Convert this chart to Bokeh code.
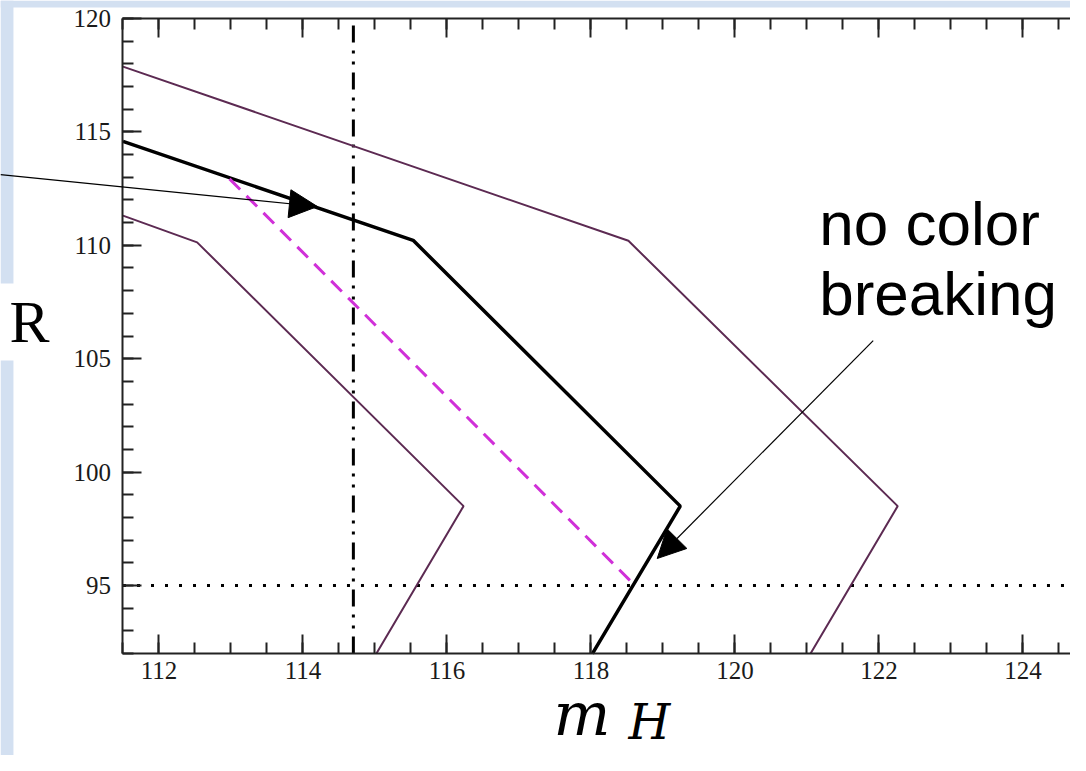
from bokeh.plotting import figure
from bokeh.models import (Range1d, LinearAxis, SingleIntervalTicker, Label,
                          Arrow, NormalHead, BoxAnnotation, CustomJSTickFormatter)
from bokeh.embed import file_html
from bokeh.resources import INLINE

# ---- data ----
upper_mh = [111.5, 118.52, 122.26, 121.05]
upper_m = [117.88, 110.2, 98.5, 92.0]

central_mh = [111.5, 115.53, 119.24, 118.02]
central_m = [114.58, 110.22, 98.5, 92.0]

lower_mh = [111.5, 112.53, 116.23, 115.02]
lower_m = [111.31, 110.13, 98.5, 92.0]

dashed_mh = [112.98, 118.58]
dashed_m = [112.93, 95.1]

vline_mh = 114.7
hline_m = 95.0

# axis box of the chart (m_H, m) and the visible canvas window around it
box_x = (111.5, 124.66)
box_y = (92.0, 120.0)
view_x = (109.799, 124.66)
view_y = (87.504, 120.794)

W, H = 1070, 755
PURPLE = "#5c2a52"
MAGENTA = "#d030d8"
BLUE = "#d3e0f1"
SERIF = "Liberation Serif"

p = figure(width=W, height=H, x_range=Range1d(*view_x), y_range=Range1d(*view_y),
           output_backend="svg", toolbar_location=None,
           x_axis_location=None, y_axis_location=None,
           background_fill_color="white", border_fill_color="white")
p.min_border = 0
p.outline_line_color = None
p.grid.visible = False

def style_axis(ax, labels=True):
    ax.axis_line_width = 2
    ax.axis_line_color = "#222222"
    ax.major_tick_in = 19
    ax.major_tick_out = 0
    ax.minor_tick_in = 11
    ax.minor_tick_out = 0
    ax.major_tick_line_width = 2
    ax.minor_tick_line_width = 2
    ax.major_tick_line_color = "#222222"
    ax.minor_tick_line_color = "#222222"
    if labels:
        ax.major_label_text_font = SERIF
        ax.major_label_text_font_size = "25px"
        ax.major_label_text_color = "#1a1a1a"
    else:
        ax.formatter = CustomJSTickFormatter(code="return ''")
        ax.major_label_text_color = None
        ax.major_label_standoff = 0

xb = LinearAxis(ticker=SingleIntervalTicker(interval=2, num_minor_ticks=4),
                fixed_location=box_y[0], bounds=box_x)
style_axis(xb)
xb.major_label_standoff = 8
p.add_layout(xb, "below")

xt = LinearAxis(ticker=SingleIntervalTicker(interval=2, num_minor_ticks=4),
                fixed_location=box_y[1], bounds=box_x)
style_axis(xt, labels=False)
p.add_layout(xt, "above")

yl = LinearAxis(ticker=SingleIntervalTicker(interval=5, num_minor_ticks=5),
                fixed_location=box_x[0], bounds=box_y)
style_axis(yl)
yl.major_label_standoff = 12
p.add_layout(yl, "left")

# background strips of the slide
def strip(l, r, b, t):
    p.add_layout(BoxAnnotation(left=l, right=r, bottom=b, top=t,
                               fill_color=BLUE, fill_alpha=1, line_color=None,
                               level="underlay"))
strip(view_x[0], 109.979, 108.32, view_y[1])
strip(view_x[0], 109.979, view_y[0], 104.92)
strip(view_x[0], view_x[1], 120.485, view_y[1])

# reference lines
p.line(list(box_x), [hline_m, hline_m], line_color="black", line_width=3, line_dash="3 11")
p.line([vline_mh, vline_mh], list(box_y), line_color="black", line_width=3,
       line_dash="17 8 3 8 3 8")

# curves
p.line(upper_mh, upper_m, line_color=PURPLE, line_width=2)
p.line(lower_mh, lower_m, line_color=PURPLE, line_width=2)
p.line(central_mh, central_m, line_color="black", line_width=3.5)
p.line(dashed_mh, dashed_m, line_color=MAGENTA, line_width=3, line_dash="15 9")

# arrows
p.add_layout(Arrow(end=NormalHead(size=28, fill_color="black", line_color="black"),
                   x_start=view_x[0], y_start=113.12, x_end=114.20, y_end=111.71,
                   line_color="black", line_width=1.2))
p.add_layout(Arrow(end=NormalHead(size=28, fill_color="black", line_color="black"),
                   x_start=121.92, y_start=105.80, x_end=118.92, y_end=96.19,
                   line_color="black", line_width=1.2))

# texts
p.add_layout(Label(x=121.17, y=110.96, text="no color", text_font="Liberation Sans",
                   text_font_size="62px", text_color="black", text_baseline="alphabetic"))
p.add_layout(Label(x=121.17, y=107.88, text="breaking", text_font="Liberation Sans",
                   text_font_size="62px", text_color="black", text_baseline="alphabetic"))
p.add_layout(Label(x=109.924, y=106.60, text="R", text_font=SERIF,
                   text_font_size="60px", text_color="black", text_baseline="alphabetic"))
p.add_layout(Label(x=117.479, y=89.35, text="m", text_font="DejaVu Serif",
                   text_font_style="italic", text_font_size="60px", text_color="black",
                   text_baseline="alphabetic"))
p.add_layout(Label(x=118.52, y=88.98, text="H", text_font="DejaVu Serif",
                   text_font_style="italic", text_font_size="48px", text_color="black",
                   text_baseline="alphabetic"))

open("out.html", "w").write(file_html(p, INLINE))
